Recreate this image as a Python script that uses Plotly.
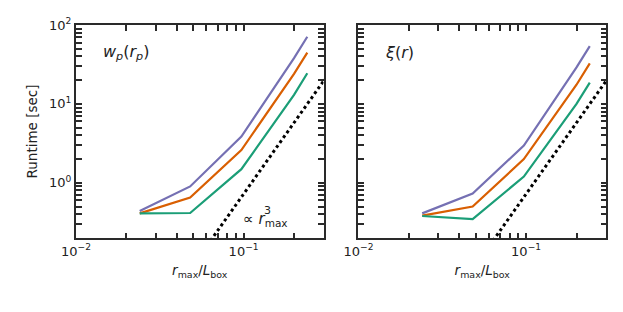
import plotly.graph_objects as go
from plotly.subplots import make_subplots

r_frac = [0.024, 0.048, 0.097, 0.2, 0.24]
wp_purple = [0.44, 0.90, 3.86, 38, 71]
wp_orange = [0.41, 0.65, 2.6, 24, 44.6]
wp_green = [0.41, 0.415, 1.49, 13, 24.5]
xi_purple = [0.41, 0.73, 2.97, 29, 54]
xi_orange = [0.385, 0.50, 2.0, 17.5, 32.7]
xi_green = [0.38, 0.347, 1.2, 10, 18.6]
scale_x = [0.05, 0.35]
scale_c = 722.0
scale_y = [scale_c * v ** 3 for v in scale_x]

x_decades = [0.01, 0.1]
x_decade_text = ["10<sup>−2</sup>", "10<sup>−1</sup>"]
y_decades = [1, 10, 100]
y_decade_text = ["10<sup>0</sup>", "10<sup>1</sup>", "10<sup>2</sup>"]


def log_ticks(decades, labels, lo, hi):
    vals, text = [], []
    for d, lab in zip(decades, labels):
        for k in range(1, 10):
            v = d * k
            if lo <= v <= hi:
                vals.append(v)
                text.append(lab if k == 1 else "")
    for k in range(1, 10):  # partial decade below the first label
        v = decades[0] / 10 * k
        if lo <= v < decades[0]:
            vals.insert(0, v)
            text.insert(0, "")
    return vals, text


x_tickvals, x_ticktext = log_ticks(x_decades, x_decade_text, 0.01, 0.3)
y_tickvals, y_ticktext = log_ticks(y_decades, y_decade_text, 0.2, 100)

colors = {"purple": "#7570b3", "orange": "#d95f02", "green": "#1b9e77"}
FONT = "DejaVu Sans"
AX = "#2a2a2a"
TXT = "#222222"

fig = make_subplots(rows=1, cols=2, horizontal_spacing=0.066)

panels = [
    (1, [wp_purple, wp_orange, wp_green]),
    (2, [xi_purple, xi_orange, xi_green]),
]
for col, series in panels:
    for ys, c in zip(series, ["purple", "orange", "green"]):
        fig.add_trace(go.Scatter(x=r_frac, y=ys, mode="lines",
                                 line=dict(color=colors[c], width=2.2),
                                 showlegend=False), row=1, col=col)
    fig.add_trace(go.Scatter(x=scale_x, y=scale_y, mode="lines",
                             line=dict(color="black", width=3, dash="dot"),
                             showlegend=False), row=1, col=col)

for col in (1, 2):
    fig.update_xaxes(type="log", range=[-2, -0.523], showgrid=False, zeroline=False,
                     automargin=False,
                     showline=True, linecolor=AX, linewidth=2, mirror="allticks",
                     ticks="inside", ticklen=5.5, tickwidth=1.5, tickcolor=AX,
                     tickmode="array", tickvals=x_tickvals, ticktext=x_ticktext,
                     tickfont=dict(family=FONT, size=13, color=TXT),
                     title=dict(text="<i>r</i><sub>max</sub>/<i>L</i><sub>box</sub>",
                                font=dict(family=FONT, size=13.5, color=TXT), standoff=8),
                     row=1, col=col)
    fig.update_yaxes(type="log", range=[-0.699, 2], showgrid=False, zeroline=False,
                     automargin=False,
                     showline=True, linecolor=AX, linewidth=2, mirror="allticks",
                     ticks="inside", ticklen=5.5, tickwidth=1.5, tickcolor=AX,
                     tickmode="array", tickvals=y_tickvals, ticktext=y_ticktext,
                     showticklabels=(col == 1),
                     tickfont=dict(family=FONT, size=13, color=TXT),
                     row=1, col=col)

fig.update_yaxes(title=dict(text="Runtime [sec]", font=dict(family=FONT, size=13.5, color=TXT),
                            standoff=8), row=1, col=1)

fig.add_annotation(xref="x domain", yref="y domain", x=0.1, y=0.87,
                   text="<i>w</i><sub><i>p</i></sub>(<i>r</i><sub><i>p</i></sub>)",
                   showarrow=False, xanchor="left", yanchor="middle",
                   font=dict(family=FONT, size=16, color=TXT))
fig.add_annotation(xref="x2 domain", yref="y2 domain", x=0.1, y=0.87,
                   text="<i>ξ</i>(<i>r</i>)",
                   showarrow=False, xanchor="left", yanchor="middle",
                   font=dict(family=FONT, size=16, color=TXT))
fig.add_annotation(xref="x domain", yref="y domain", x=0.668, y=0.085,
                   text="∝ <i>r</i><sub>max</sub>",
                   showarrow=False, xanchor="left", yanchor="middle",
                   font=dict(family=FONT, size=15, color=TXT))
fig.add_annotation(xref="x domain", yref="y domain", x=0.752, y=0.128,
                   text="3",
                   showarrow=False, xanchor="left", yanchor="middle",
                   font=dict(family=FONT, size=11, color=TXT))

fig.update_layout(width=623, height=312, margin=dict(l=68, r=25, t=17, b=82),
                  plot_bgcolor="white", paper_bgcolor="white",
                  font=dict(family=FONT, color=TXT))

fig.write_html("out.html")
